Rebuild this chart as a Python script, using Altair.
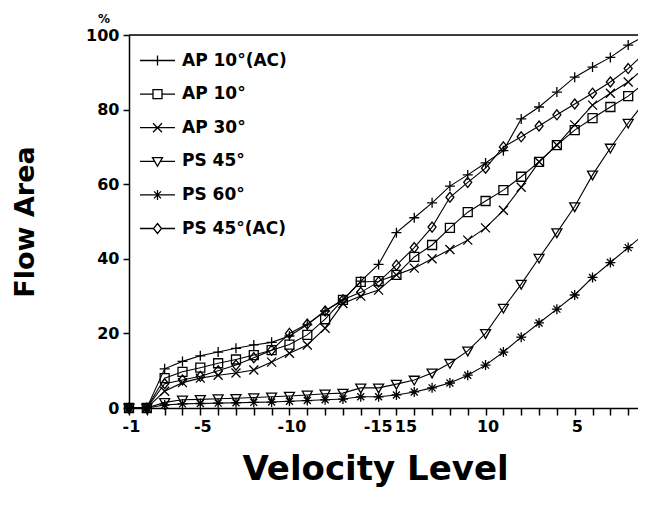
import altair as alt
import pandas as pd

# velocity levels along the x axis (ordinal positions)
levels = [-1, -2, -3, -4, -5, -6, -7, -8, -9, -10, -11, -12, -13, -14, -15,
          15, 14, 13, 12, 11, 10, 9, 8, 7, 6, 5, 4, 3, 2, 1]
shown_levels = [-1, -5, -10, -15, 15, 10, 5]

series_names = ["AP 10°(AC)", "AP 10°", "AP 30°", "PS 45°", "PS 60°", "PS 45°(AC)"]

ap10_ac = [0, 0, 10.5, 12.5, 14, 15, 16, 16.9, 17.6, 19.3, 22.3, 26, 29, 34, 38.5,
           47, 51, 55, 59.5, 62.5, 65.7, 69, 77.5, 80.7, 84.7, 88.7, 91.4, 94, 97.3, 100]
ap10 = [0, 0, 8, 9.7, 10.8, 12, 13, 14.2, 15.5, 17, 19.6, 23.8, 29, 33.8, 34,
        35.7, 40.5, 43.7, 48.3, 52.5, 55.5, 58.4, 62, 66, 70.5, 74.5, 77.7, 80.7, 83.6, 87.5]
ap30 = [0, 0, 4.5, 6.8, 8, 8.8, 9.4, 10.2, 12.3, 14.7, 16.9, 21.4, 28, 30, 31.6,
        35.7, 37.5, 40, 42.5, 45, 48.3, 53, 59.2, 66, 70.5, 75.9, 81.2, 84.4, 87.4, 91.5]
ps45 = [0, 0, 1.5, 2.2, 2.3, 2.5, 2.6, 2.8, 3, 3.2, 3.5, 3.8, 4, 5.4, 5.4,
        6.4, 7.5, 9.4, 12, 15.3, 20, 26.8, 33.2, 40.2, 47, 54, 62.5, 69.7, 76.4, 82.5]
ps60 = [0, 0, 0.8, 1.1, 1.2, 1.3, 1.4, 1.5, 1.6, 1.8, 2, 2.2, 2.4, 3, 3,
        3.5, 4.3, 5.4, 6.7, 8.8, 11.5, 15, 19, 22.8, 26.5, 30.3, 35, 39, 43, 47]
ps45_ac = [0, 0, 6.5, 7.5, 8.5, 10, 11.5, 13.5, 15.5, 20, 22.5, 26, 29, 31, 33.8,
           38.3, 43, 48.5, 56.5, 60.5, 64.3, 70, 72.7, 75.6, 78.6, 81.5, 84.4, 87.4, 91, 95.5]

all_series = [ap10_ac, ap10, ap30, ps45, ps60, ps45_ac]

rows = []
for name, vals in zip(series_names, all_series):
    for i, (lv, v) in enumerate(zip(levels, vals)):
        rows.append({"series": name, "idx": i, "level": lv, "val": v})
df = pd.DataFrame(rows)

FONT = "DejaVu Sans"

point_paths = [
    "M-1,0H1M0,-1V1",                                   # plus
    "M-0.9,-0.9H0.9V0.9H-0.9Z",                         # square
    "M-0.9,-0.9L0.9,0.9M-0.9,0.9L0.9,-0.9",             # x
    "M-1,-0.75L1,-0.75L0,1Z",                           # triangle down
    "M-1,0H1M0,-1V1M-0.7,-0.7L0.7,0.7M-0.7,0.7L0.7,-0.7",  # asterisk
    "M0,-1L0.8,0L0,1L-0.8,0Z",                          # diamond
]
legend_paths = [
    "M-3.5,0H3.5M0,-1V1",
    "M-3.5,0H-0.9M0.9,0H3.5M-0.9,-0.9H0.9V0.9H-0.9Z",
    "M-3.5,0H3.5M-0.9,-0.9L0.9,0.9M-0.9,0.9L0.9,-0.9",
    "M-3.5,0H-0.6M0.6,0H3.5M-1,-0.75L1,-0.75L0,1Z",
    "M-3.5,0H3.5M0,-1V1M-0.7,-0.7L0.7,0.7M-0.7,0.7L0.7,-0.7",
    "M-3.5,0H-0.8M0.8,0H3.5M0,-1L0.8,0L0,1L-0.8,0Z",
]

label_expr = " : ".join(
    f"datum.value == {i} ? '{lv}'" for i, lv in enumerate(levels) if lv in shown_levels
) + " : ''"

label_offset = {
    "condition": [
        {"test": "datum.value == 15", "value": 9},
        {"test": "datum.value == 14", "value": -1},
    ],
    "value": 2,
}

x_enc = alt.X(
    "idx:Q",
    scale=alt.Scale(domain=[0, 28.55], nice=False, zero=False),
    axis=alt.Axis(
        values=list(range(29)), tickCount=40, labelExpr=label_expr, title="Velocity  Level",
        grid=False, labelOverlap=False, labelFlush=False,
        labelFont=FONT, labelFontWeight="bold", labelFontSize=16, labelColor="black",
        labelPadding=3, labelOffset=label_offset,
        tickSize=7, tickWidth=1.5, tickColor="black",
        domainColor="black", domainWidth=1.5,
        titleFont=FONT, titleFontWeight="bold", titleFontSize=34, titleColor="black",
        titlePadding=18, titleX=246,
    ),
)
y_enc = alt.Y(
    "val:Q",
    scale=alt.Scale(domain=[0, 100], nice=False),
    axis=alt.Axis(
        values=[0, 20, 40, 60, 80, 100], title="Flow  Area", grid=False,
        labelFont=FONT, labelFontWeight="bold", labelFontSize=16, labelColor="black",
        labelPadding=4, tickSize=6, tickWidth=1.5, tickColor="black",
        domainColor="black", domainWidth=1.5,
        titleFont=FONT, titleFontWeight="bold", titleFontSize=27, titleColor="black",
        titlePadding=46,
    ),
)

base = alt.Chart(df)

lines = base.mark_line(color="black", strokeWidth=1.1).encode(
    x=x_enc, y=y_enc, detail="series:N", order="idx:Q"
)

points = base.mark_point(color="black", filled=False, size=100, strokeWidth=1.3, opacity=1).encode(
    x="idx:Q", y="val:Q",
    shape=alt.Shape("series:N", scale=alt.Scale(domain=series_names, range=point_paths), legend=None),
)

legend_layer = base.transform_filter("false").mark_point(
    color="black", filled=False, size=100, strokeWidth=1.3, opacity=1
).encode(
    x="idx:Q", y="val:Q",
    shape=alt.Shape(
        "series:N",
        scale=alt.Scale(domain=series_names, range=legend_paths),
        legend=alt.Legend(
            title=None, orient="none", legendX=20, legendY=17,
            labelFont=FONT, labelFontWeight="bold", labelFontSize=17, labelColor="black",
            labelOffset=16, rowPadding=15.6, padding=0,
            symbolSize=100, symbolStrokeColor="black", symbolFillColor="transparent",
            symbolStrokeWidth=1.3, symbolOpacity=1, labelLimit=300,
        ),
    ),
)

top_rule = alt.Chart(pd.DataFrame({"v": [100]})).mark_rule(color="black", strokeWidth=1.5).encode(
    y=alt.Y("v:Q")
)

chart = alt.layer(top_rule, lines, points, legend_layer).resolve_scale(
    shape="independent"
).properties(
    width=509, height=373,
    autosize=alt.AutoSizeParams(type="none"),
    padding={"left": 121, "top": 27, "right": 0, "bottom": 90},
    title=alt.TitleParams("%", anchor="start", frame="group", dx=-31, dy=4, offset=5,
                          font=FONT, fontSize=12, fontWeight="bold", color="black"),
).configure_view(stroke=None).configure(font=FONT, background="white")

chart.save("out.html", embed_options={"renderer": "svg", "actions": False})
